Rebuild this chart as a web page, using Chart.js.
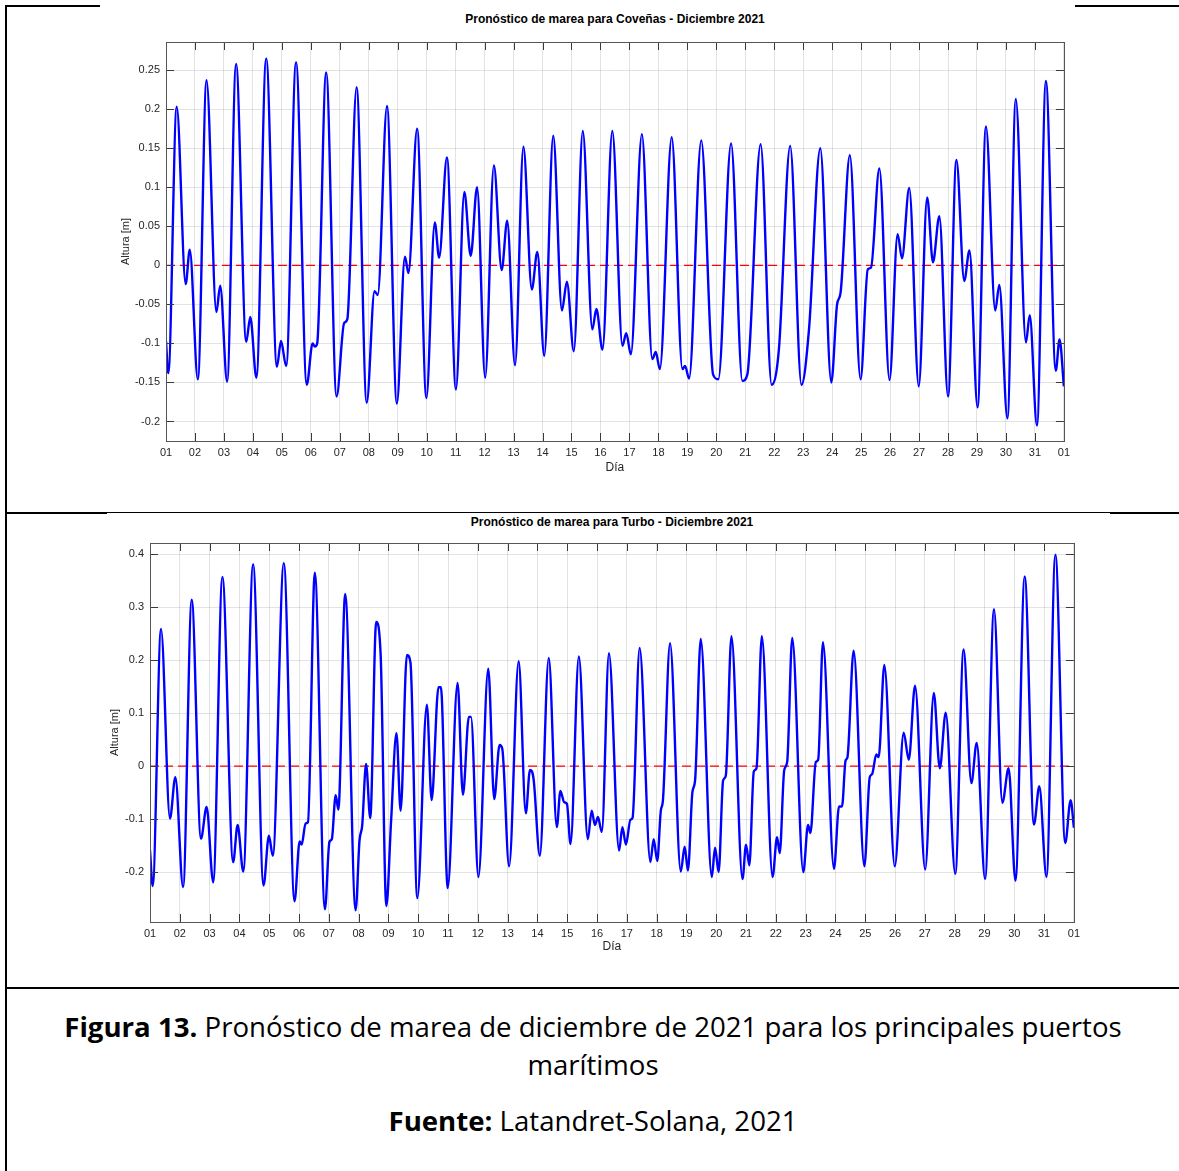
<!DOCTYPE html>
<html>
<head>
<meta charset="utf-8">
<script src="https://cdn.jsdelivr.net/npm/chart.js@4"></script>
<style>
  html, body { margin: 0; padding: 0; background: #fff; }
  body { width: 1179px; height: 1171px; position: relative; overflow: hidden; }
  .linea { position: absolute; background: #000; }
  .titulo { position: absolute; font: bold 12px "Liberation Sans", Arial, sans-serif; color: #000; text-align: center; white-space: nowrap; }
  .caja { position: absolute; }
  #leyenda, #fuente { position: absolute; left: 7px; width: 1172px; text-align: center; font-family: "Open Sans", Lato, sans-serif; font-size: 27.6px; line-height: 38px; color: #000; font-variant-ligatures: none; white-space: nowrap; }
  #leyenda { top: 1007px; }
  #fuente { top: 1101px; }
</style>
</head>
<body>
<!-- bordes de la tabla del documento -->
<div class="linea" style="left:5px;top:5px;width:2px;height:1166px"></div>
<div class="linea" style="left:5px;top:5px;width:95px;height:2px"></div>
<div class="linea" style="left:1075px;top:5px;width:104px;height:2px"></div>
<div class="linea" style="left:5px;top:512px;width:102px;height:2px"></div>
<div class="linea" style="left:107px;top:512px;width:1003px;height:1px"></div>
<div class="linea" style="left:1110px;top:512px;width:69px;height:2px"></div>
<div class="linea" style="left:5px;top:987px;width:1174px;height:2px"></div>

<div class="titulo" style="left:415px;width:400px;top:12px">Pronóstico de marea para Coveñas - Diciembre 2021</div>
<div class="caja" style="left:115px;top:6px;width:960px;height:475px"><canvas id="graficoCovenas"></canvas></div>

<div class="titulo" style="left:412px;width:400px;top:515px">Pronóstico de marea para Turbo - Diciembre 2021</div>
<div class="caja" style="left:104px;top:514px;width:981px;height:446px"><canvas id="graficoTurbo"></canvas></div>

<div id="leyenda"><b>Figura 13.</b> Pronóstico de marea de diciembre de 2021 para los principales puertos<br>marítimos</div>
<div id="fuente"><b>Fuente:</b> Latandret-Solana, 2021</div>

<script>
// Coveñas: dia del mes (fraccion) y altura [m]
const covenasDia = [1.00, 1.08, 1.37, 1.68, 1.82, 2.10, 2.40, 2.74, 2.87, 3.11, 3.42, 3.77, 3.91, 4.12, 4.46, 4.83, 4.97, 5.15, 5.49, 5.86,
  6.06, 6.14, 6.22, 6.53, 6.89, 7.15, 7.26, 7.58, 7.93, 8.20, 8.31, 8.63, 8.97, 9.25, 9.37, 9.67, 9.99, 10.28, 10.43, 10.70,
  11.01, 11.30, 11.52, 11.74, 12.02, 12.32, 12.59, 12.78, 13.05, 13.34, 13.63, 13.82, 14.06, 14.37, 14.67, 14.84, 15.08, 15.39, 15.72, 15.86,
  16.07, 16.41, 16.76, 16.89, 17.05, 17.43, 17.79, 17.91, 18.05, 18.46, 18.83, 18.92, 19.06, 19.48, 19.89, 20.07, 20.51, 20.90, 21.07, 21.53,
  21.91, 22.16, 22.55, 22.94, 23.20, 23.59, 23.97, 24.17, 24.29, 24.61, 24.98, 25.23, 25.34, 25.63, 25.98, 26.26, 26.41, 26.66, 26.99, 27.28,
  27.48, 27.70, 28.00, 28.29, 28.56, 28.74, 29.02, 29.31, 29.63, 29.77, 30.05, 30.34, 30.69, 30.82, 31.07, 31.38, 31.72, 31.85, 32.00];
const covenasAltura = [-0.097, -0.138, 0.203, -0.024, 0.020, -0.146, 0.237, -0.060, -0.026, -0.149, 0.258, -0.098, -0.066, -0.144, 0.265, -0.130, -0.097, -0.129, 0.260, -0.153,
  -0.100, -0.104, -0.100, 0.247, -0.168, -0.074, -0.069, 0.228, -0.176, -0.033, -0.038, 0.204, -0.177, 0.011, -0.010, 0.175, -0.170, 0.055, 0.010, 0.138,
  -0.159, 0.094, 0.012, 0.100, -0.144, 0.128, -0.006, 0.057, -0.128, 0.152, -0.031, 0.017, -0.116, 0.166, -0.058, -0.021, -0.110, 0.172, -0.082, -0.056,
  -0.108, 0.172, -0.103, -0.087, -0.114, 0.168, -0.120, -0.111, -0.133, 0.164, -0.133, -0.129, -0.145, 0.160, -0.140, -0.146, 0.156, -0.148, -0.140, 0.155,
  -0.153, -0.108, 0.153, -0.153, -0.082, 0.150, -0.150, -0.050, -0.035, 0.141, -0.146, -0.005, -0.003, 0.124, -0.147, 0.040, 0.009, 0.099, -0.155, 0.087,
  0.004, 0.063, -0.168, 0.135, -0.020, 0.019, -0.182, 0.178, -0.058, -0.025, -0.196, 0.213, -0.099, -0.064, -0.205, 0.236, -0.135, -0.095, -0.155];

// Turbo
const turboDia = [1.00, 1.09, 1.37, 1.67, 1.85, 2.11, 2.40, 2.71, 2.90, 3.12, 3.43, 3.79, 3.94, 4.13, 4.46, 4.81, 4.99, 5.12, 5.49, 5.85,
  6.02, 6.09, 6.22, 6.30, 6.53, 6.87, 7.02, 7.10, 7.23, 7.32, 7.55, 7.90, 8.03, 8.12, 8.25, 8.39, 8.59, 8.74, 8.93, 9.09,
  9.27, 9.41, 9.62, 9.74, 9.97, 10.29, 10.45, 10.68, 10.76, 10.99, 11.32, 11.50, 11.70, 11.77, 12.02, 12.35, 12.55, 12.73, 12.82, 13.05,
  13.37, 13.61, 13.75, 13.87, 14.08, 14.38, 14.65, 14.77, 14.90, 14.99, 15.11, 15.39, 15.69, 15.82, 15.93, 16.03, 16.16, 16.40, 16.74, 16.85,
  16.97, 17.12, 17.19, 17.43, 17.79, 17.90, 18.02, 18.14, 18.21, 18.45, 18.81, 18.94, 19.05, 19.20, 19.29, 19.48, 19.85, 19.96, 20.08, 20.23,
  20.32, 20.51, 20.88, 21.00, 21.11, 21.26, 21.35, 21.53, 21.89, 22.04, 22.13, 22.28, 22.38, 22.55, 22.92, 23.08, 23.16, 23.34, 23.42, 23.58,
  23.95, 24.12, 24.22, 24.34, 24.40, 24.61, 24.97, 25.15, 25.23, 25.37, 25.45, 25.64, 25.99, 26.29, 26.46, 26.67, 27.01, 27.30, 27.50, 27.70,
  28.02, 28.30, 28.56, 28.74, 29.02, 29.32, 29.60, 29.81, 30.04, 30.35, 30.66, 30.84, 31.08, 31.38, 31.71, 31.89, 32.00];
const turboAltura = [-0.159, -0.226, 0.259, -0.099, -0.021, -0.228, 0.314, -0.137, -0.077, -0.219, 0.357, -0.181, -0.111, -0.199, 0.381, -0.225, -0.131, -0.169, 0.383, -0.255,
  -0.142, -0.148, -0.108, -0.106, 0.365, -0.270, -0.143, -0.138, -0.055, -0.082, 0.325, -0.272, -0.140, -0.112, 0.004, -0.098, 0.272, 0.209, -0.264, -0.103,
  0.062, -0.084, 0.210, 0.195, -0.249, 0.116, -0.064, 0.149, 0.149, -0.230, 0.157, -0.054, 0.093, 0.093, -0.209, 0.184, -0.062, 0.040, 0.033, -0.189,
  0.198, -0.089, -0.007, -0.024, -0.169, 0.204, -0.115, -0.047, -0.068, -0.071, -0.147, 0.207, -0.138, -0.084, -0.111, -0.096, -0.124, 0.213, -0.159, -0.115,
  -0.148, -0.101, -0.098, 0.223, -0.181, -0.138, -0.179, -0.084, -0.065, 0.232, -0.199, -0.152, -0.197, -0.049, -0.027, 0.240, -0.209, -0.154, -0.200, -0.027,
  -0.018, 0.245, -0.213, -0.148, -0.187, -0.010, -0.004, 0.245, -0.209, -0.134, -0.164, -0.008, 0.008, 0.242, -0.200, -0.111, -0.126, 0.008, 0.012, 0.234,
  -0.194, -0.076, -0.076, 0.011, 0.016, 0.218, -0.189, -0.021, -0.015, 0.022, 0.017, 0.191, -0.189, 0.063, 0.012, 0.152, -0.195, 0.138, -0.004, 0.101,
  -0.203, 0.220, -0.032, 0.044, -0.213, 0.296, -0.069, -0.004, -0.216, 0.358, -0.110, -0.038, -0.209, 0.399, -0.145, -0.064, -0.116];

// linea de referencia (nivel medio)
const referenciaDia = [1, 32];
const referenciaNivel = [0, 0];

const colorTexto = '#262626';

// marcas hacia dentro y caja completa, estilo MATLAB
const marcasInternas = {
  id: 'marcasInternas',
  afterDatasetsDraw(chart) {
    const { ctx, chartArea: a, scales: { x, y } } = chart;
    ctx.save();
    ctx.strokeStyle = '#3a3a3a';
    ctx.lineWidth = 1;
    ctx.beginPath();
    x.ticks.forEach(t => {
      const px = Math.round(x.getPixelForValue(t.value)) + 0.5;
      ctx.moveTo(px, a.bottom); ctx.lineTo(px, a.bottom - 8);
      ctx.moveTo(px, a.top); ctx.lineTo(px, a.top + 8);
    });
    y.ticks.forEach(t => {
      const py = Math.round(y.getPixelForValue(t.value)) + 0.5;
      ctx.moveTo(a.left, py); ctx.lineTo(a.left + 8, py);
      ctx.moveTo(a.right, py); ctx.lineTo(a.right - 8, py);
    });
    ctx.stroke();
    ctx.strokeStyle = '#555';
    ctx.strokeRect(Math.round(a.left) + 0.5, Math.round(a.top) + 0.5, Math.round(a.width), Math.round(a.height));
    ctx.restore();
  }
};

function crearGrafico(id, dias, alturas, yMin, yMax, yPaso, anchoEjeY, altoEjeX, relleno) {
  return new Chart(document.getElementById(id), {
    type: 'line',
    data: {
      datasets: [{
        data: dias.map((d, i) => ({ x: d, y: alturas[i] })),
        borderColor: '#0000ff',
        borderWidth: 2.4,
        pointRadius: 0,
        cubicInterpolationMode: 'monotone',
        fill: false,
        order: 1
      }, {
        data: referenciaDia.map((d, i) => ({ x: d, y: referenciaNivel[i] })),
        borderColor: '#ff0000',
        borderWidth: 1.3,
        borderDash: [9, 5],
        pointRadius: 0,
        fill: false,
        order: 2
      }]
    },
    options: {
      responsive: true,
      maintainAspectRatio: false,
      animation: false,
      layout: { padding: relleno },
      plugins: { legend: { display: false }, tooltip: { enabled: false } },
      scales: {
        x: {
          type: 'linear',
          min: 1,
          max: 32,
          afterFit: s => { s.height = altoEjeX; },
          grid: { color: 'rgba(0,0,0,0.11)', drawTicks: false },
          border: { display: false },
          ticks: {
            stepSize: 1,
            autoSkip: false,
            maxRotation: 0,
            padding: 5,
            color: colorTexto,
            font: { family: 'Liberation Sans', size: 11 },
            callback: v => v === 32 ? '01' : String(v).padStart(2, '0')
          },
          title: { display: true, text: 'Día', color: colorTexto, font: { family: 'Liberation Sans', size: 12 }, padding: { top: 0, bottom: 6 } }
        },
        y: {
          min: yMin,
          max: yMax,
          afterFit: s => { s.width = anchoEjeY; },
          grid: { color: 'rgba(0,0,0,0.11)', drawTicks: false },
          border: { display: false },
          ticks: {
            stepSize: yPaso,
            includeBounds: false,
            padding: 6,
            color: colorTexto,
            font: { family: 'Liberation Sans', size: 11 },
            callback: v => String(Number(v.toFixed(3)))
          },
          title: { display: true, text: 'Altura [m]', color: colorTexto, font: { family: 'Liberation Sans', size: 11 }, padding: { top: 4, bottom: 0 } }
        }
      }
    },
    plugins: [marcasInternas]
  });
}

crearGrafico('graficoCovenas', covenasDia, covenasAltura, -0.225, 0.286, 0.05, 51, 40, { top: 36, right: 10, left: 0, bottom: 0 });
crearGrafico('graficoTurbo', turboDia, turboAltura, -0.294, 0.421, 0.1, 46, 38, { top: 29, right: 10, left: 0, bottom: 0 });
</script>
</body>
</html>
